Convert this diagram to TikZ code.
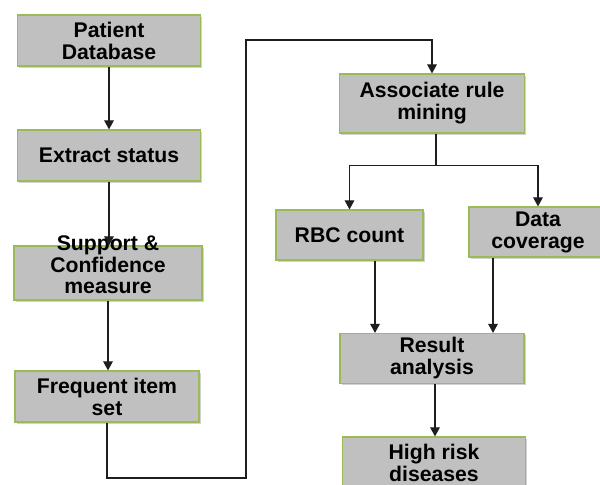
\documentclass[tikz,border=0pt]{standalone}
\usepackage{fontspec}
\setmainfont{Liberation Sans}
\usetikzlibrary{arrows.meta,shadows,calc}
\definecolor{boxfill}{RGB}{192,192,192}
\definecolor{boxline}{RGB}{155,187,89}
\definecolor{lineclr}{RGB}{30,30,30}
\begin{document}
\begin{tikzpicture}[x=0.5pt,y=-0.5pt,
  box/.style={draw=boxline, line width=0.6pt, fill=boxfill, inner sep=1pt,
    align=center, font=\fontsize{10.6}{11}\selectfont\bfseries,
    drop shadow={shadow xshift=0.8pt, shadow yshift=-0.8pt, opacity=0.35}},
  arr/.style={draw=lineclr, line width=0.55pt, -{Triangle[length=4.5pt,width=4.8pt]}},
  ln/.style={draw=lineclr, line width=0.55pt}]
\useasboundingbox (0,0) rectangle (600,484);
\clip (0,0) rectangle (600,484);
\fill[white] (0,0) rectangle (600,484);
% left column
\node[box, minimum width=91.5pt, minimum height=25.5pt] (pd) at (109,40.5) {Patient\\Database};
\node[box, minimum width=91.5pt, minimum height=25.5pt] (es) at (109,155.5) {Extract status};
\node[box, minimum width=94pt, minimum height=27pt] (sc) at (108,273)
  {\smash{\renewcommand\arraystretch{0.95}\setlength\tabcolsep{0pt}\begin{tabular}{c}Support \&\\Confidence\\measure\end{tabular}}};
\node[box, minimum width=92pt, minimum height=25.5pt] (fi) at (107,396.5) {Frequent item\\set};
% right column
\node[box, minimum width=92.5pt, minimum height=29.5pt] (arm) at (432,103.5) {Associate rule\\mining};
\node[box, minimum width=73.5pt, minimum height=25pt] (rbc) at (349.5,235) {RBC count};
\node[box, minimum width=69pt, minimum height=25pt] (dc) at (538,232) {Data\\coverage};
\node[box, minimum width=92pt, minimum height=25pt] (ra) at (432,358.5) {Result\\analysis};
\node[box, minimum width=91.5pt, minimum height=26pt] (hr) at (434,463) {High risk\\diseases};
% connectors
\draw[arr] (pd.south) -- (es.north);
\draw[arr] (es.south) -- (es.south |- sc.north);
\draw[arr] (sc.south) -- (sc.south |- fi.north);
\coordinate (c1) at (246,478);
\coordinate (c2) at (246,40);
\draw[arr] (fi.south) |- (c1) -- (c2) -| (arm.north);
\coordinate (j) at ($(arm.south)+(4,32)$);
\draw[ln] (j |- arm.south) -- (j);
\draw[arr] (j) -| (rbc.north);
\draw[arr] (j) -| (dc.north);
\draw[arr] ([xshift=12.75pt]rbc.south) -- ([xshift=12.75pt]rbc.south |- ra.north);
\draw[arr] ([xshift=-22.5pt]dc.south) -- ([xshift=-22.5pt]dc.south |- ra.north);
\draw[arr] ([xshift=1.5pt]ra.south) -- ([xshift=1.5pt]ra.south |- hr.north);
\end{tikzpicture}
\end{document}
